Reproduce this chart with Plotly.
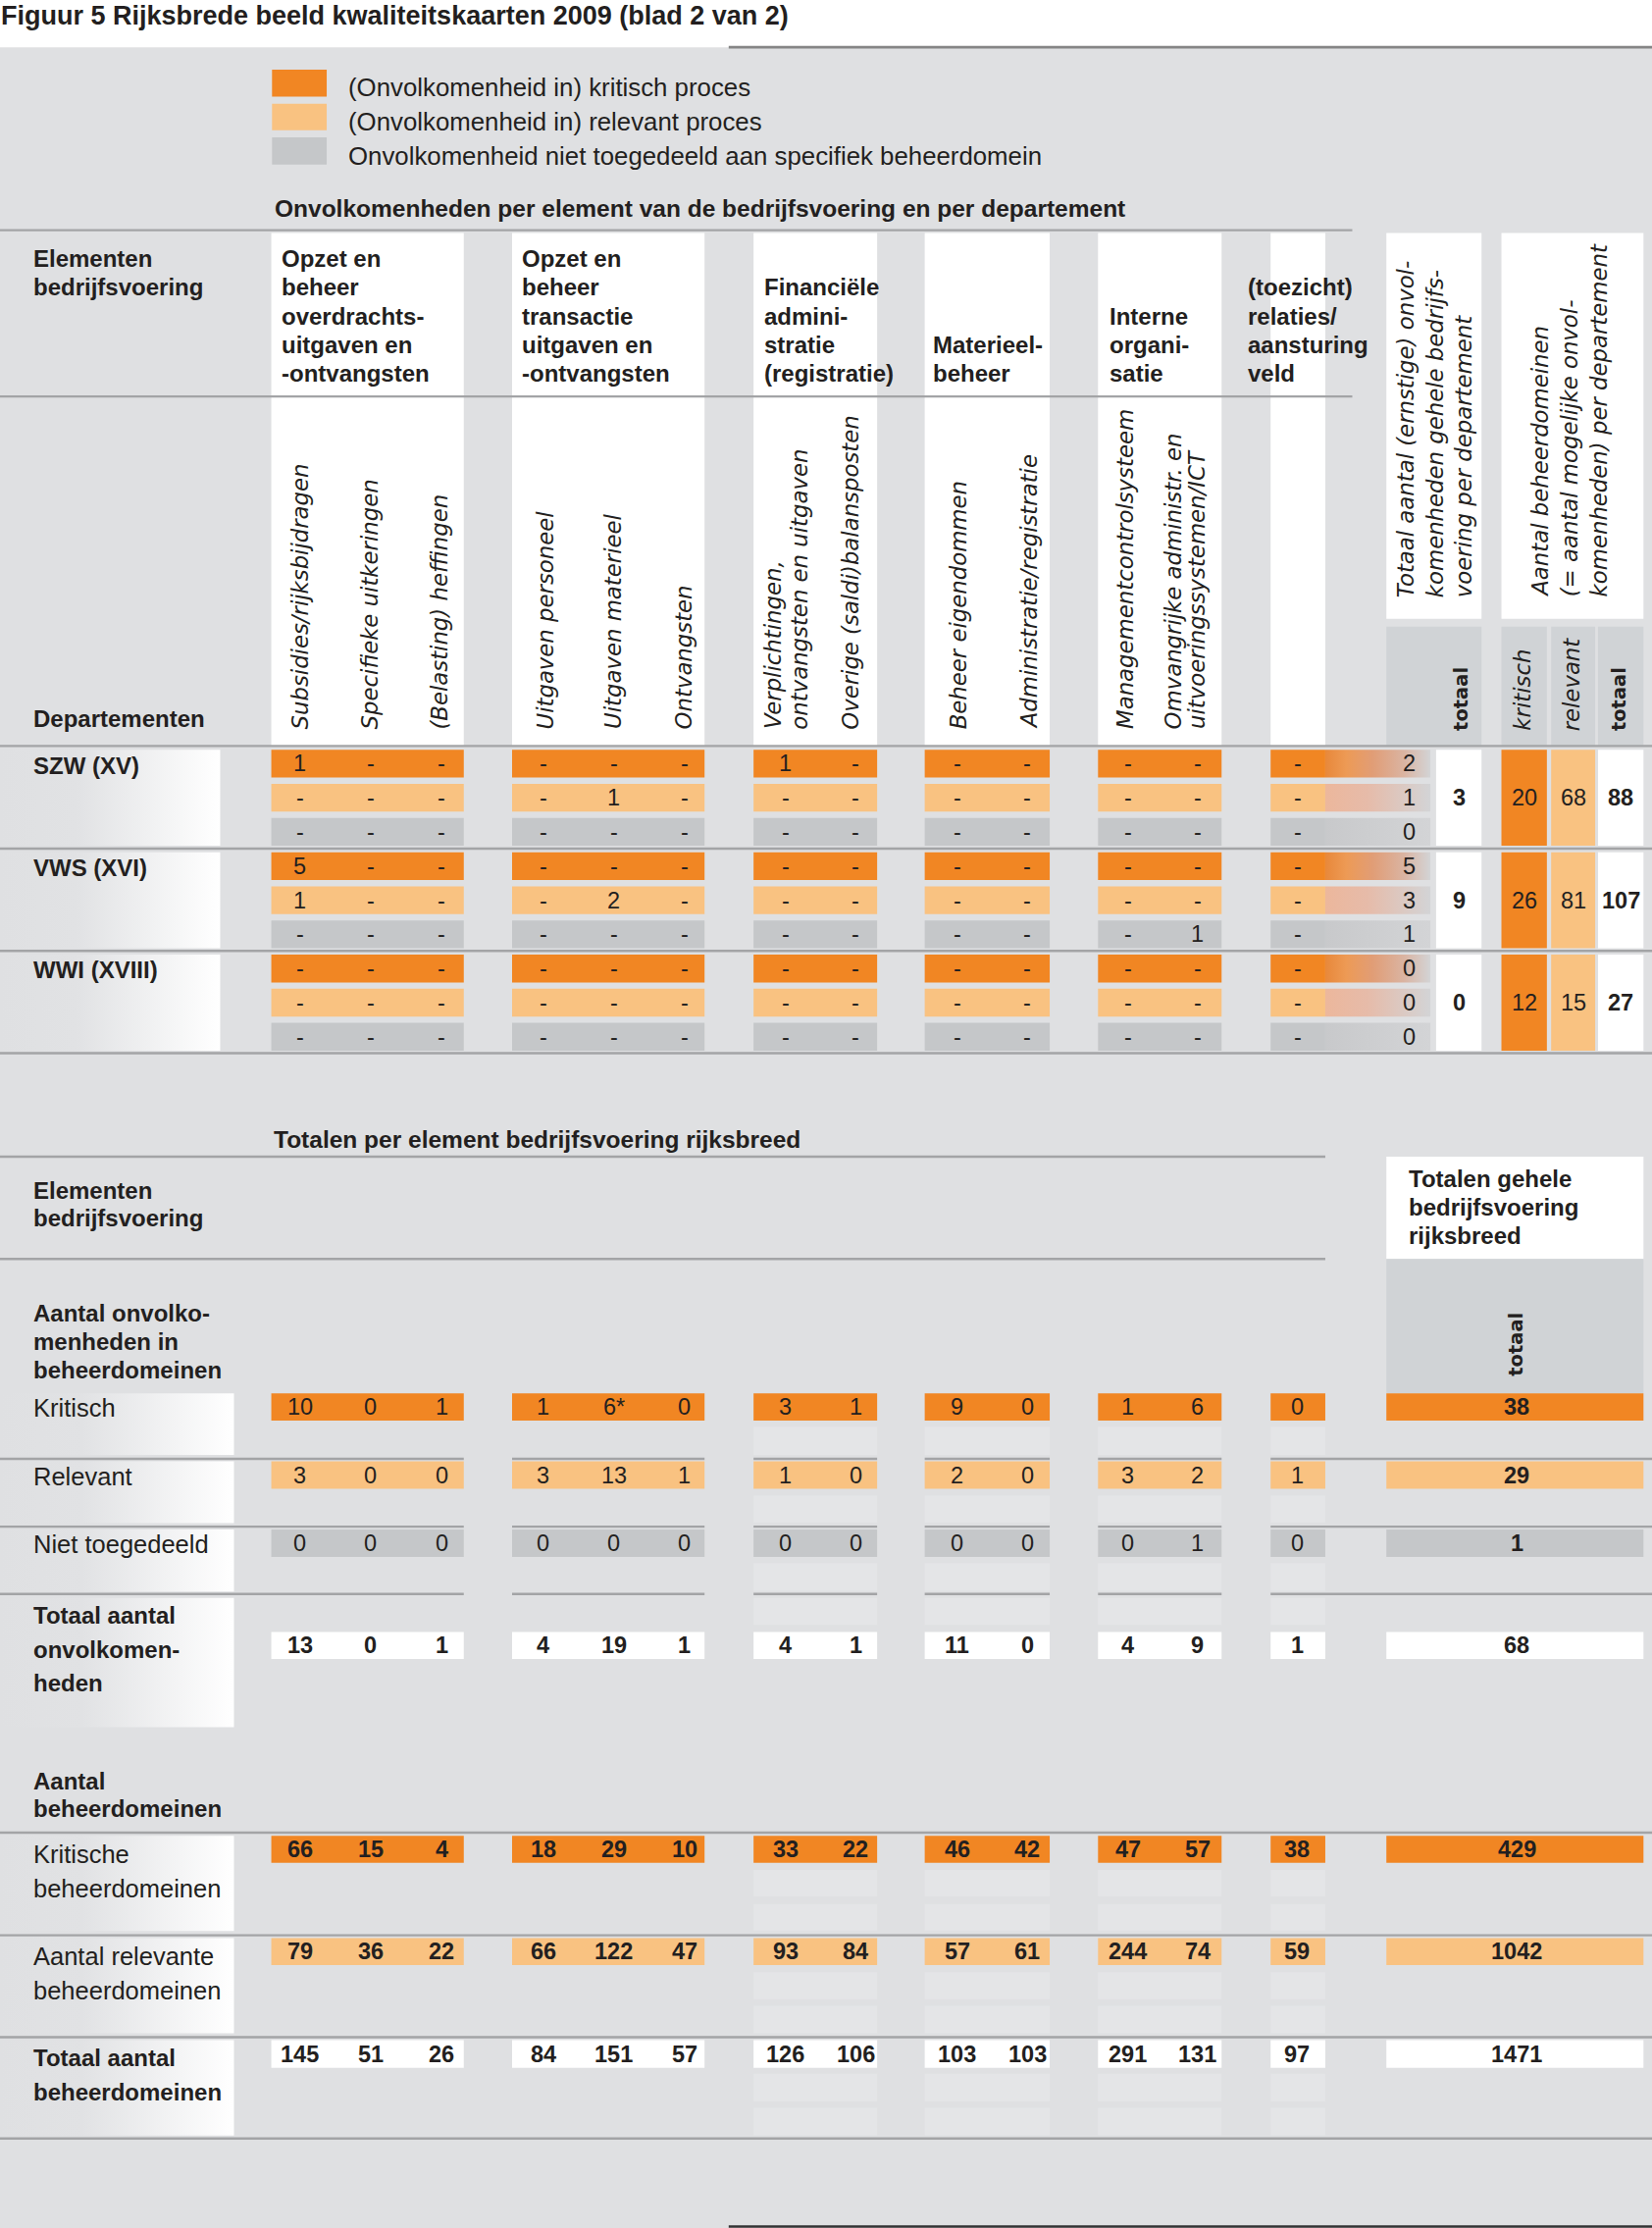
import plotly.graph_objects as go

# ---------------------------------------------------------------- data
TITLE = "Figuur 5 Rijksbrede beeld kwaliteitskaarten 2009 (blad 2 van 2)"
LEGEND_LABELS = ["(Onvolkomenheid in) kritisch proces",
                 "(Onvolkomenheid in) relevant proces",
                 "Onvolkomenheid niet toegedeeld aan specifiek beheerdomein"]
SECTION1 = "Onvolkomenheden per element van de bedrijfsvoering en per departement"
SECTION2 = "Totalen per element bedrijfsvoering rijksbreed"

GROUP_TITLES = [
    ["Opzet en", "beheer", "overdrachts-", "uitgaven en", "-ontvangsten"],
    ["Opzet en", "beheer", "transactie", "uitgaven en", "-ontvangsten"],
    ["Financiële", "admini-", "stratie", "(registratie)"],
    ["Materieel-", "beheer"],
    ["Interne", "organi-", "satie"],
    ["(toezicht)", "relaties/", "aansturing", "veld"],
]
SUB_LABELS = [
    ["Subsidies/rijksbijdragen"], ["Specifieke uitkeringen"], ["(Belasting) heffingen"],
    ["Uitgaven personeel"], ["Uitgaven materieel"], ["Ontvangsten"],
    ["Verplichtingen,", "ontvangsten en uitgaven"], ["Overige (saldi)balansposten"],
    ["Beheer eigendommen"], ["Administratie/registratie"],
    ["Managementcontrolsysteem"], ["Omvangrijke administr. en", "uitvoeringssystemen/ICT"],
    [],
]
DEPARTMENTS = ["SZW (XV)", "VWS (XVI)", "WWI (XVIII)"]
N = None
SZW_ROWS = [[1, N, N, N, N, N, 1, N, N, N, N, N, N],
            [N, N, N, N, 1, N, N, N, N, N, N, N, N],
            [N, N, N, N, N, N, N, N, N, N, N, N, N]]
VWS_ROWS = [[5, N, N, N, N, N, N, N, N, N, N, N, N],
            [1, N, N, N, 2, N, N, N, N, N, N, N, N],
            [N, N, N, N, N, N, N, N, N, N, N, 1, N]]
WWI_ROWS = [[N, N, N, N, N, N, N, N, N, N, N, N, N],
            [N, N, N, N, N, N, N, N, N, N, N, N, N],
            [N, N, N, N, N, N, N, N, N, N, N, N, N]]
DEPT_ROWS = [SZW_ROWS, VWS_ROWS, WWI_ROWS]
DEPT_ROW_TOTALS = [[2, 1, 0], [5, 3, 1], [0, 0, 0]]
DEPT_TOTAAL = [3, 9, 0]
DOMAINS_KRITISCH = [20, 26, 12]
DOMAINS_RELEVANT = [68, 81, 15]
DOMAINS_TOTAAL = [88, 107, 27]

TOT_KRITISCH = [10, 0, 1, 1, "6*", 0, 3, 1, 9, 0, 1, 6, 0]
TOT_RELEVANT = [3, 0, 0, 3, 13, 1, 1, 0, 2, 0, 3, 2, 1]
TOT_NIET = [0, 0, 0, 0, 0, 0, 0, 0, 0, 0, 0, 1, 0]
TOT_ONVOLK = [13, 0, 1, 4, 19, 1, 4, 1, 11, 0, 4, 9, 1]
SUM_ONVOLK = [38, 29, 1, 68]
DOM_KRITISCH = [66, 15, 4, 18, 29, 10, 33, 22, 46, 42, 47, 57, 38]
DOM_RELEVANT = [79, 36, 22, 66, 122, 47, 93, 84, 57, 61, 244, 74, 59]
DOM_TOTAAL = [145, 51, 26, 84, 151, 57, 126, 106, 103, 103, 291, 131, 97]
SUM_DOM = [429, 1042, 1471]

# ---------------------------------------------------------------- layout / style
W, H = 1684, 2271
UX, UY = 1163, 1568          # axis units
SANS = "Liberation Sans, Arial, sans-serif"
WIDE = "DejaVu Sans, sans-serif"
BG = "#dfe0e2"
ORANGE = "#f18623"
LIGHT = "#f9c281"
GRAYBOX = "#c5c7c9"
HDRGRAY = "#d0d3d6"
FAINT = "#e4e5e7"
LINE = "#a3a4a6"
TXT = "#231f20"
ROWCOL = [ORANGE, LIGHT, GRAYBOX]

COL_X = [211, 261, 311, 382.5, 432, 482, 553, 602.4, 674, 723.4, 794, 843, 914]
SUB_LABEL_X = [[211], [260], [309.5], [383.7], [432], [481], [544.6, 563],
               [599], [675], [725], [792.5], [826, 842.6], []]
GROUP_SPANS = [(191, 326.5), (360.5, 496), (530.5, 617.5), (651, 739), (773, 860), (894.5, 933)]
GROUP_TITLE_X = [197.5, 366.8, 537, 656.4, 780.4, 877.7]
HDR_LINE_Y = [182, 202, 222.5, 242.7, 263]
NUM = 23.5
ROT = 22.8

fig = go.Figure()
shapes, anns = [], []


def rect(x0, x1, y0, y1, fill, layer="below"):
    shapes.append(dict(type="rect", xref="x", yref="y", x0=x0, x1=x1, y0=y0, y1=y1,
                       fillcolor=fill, line=dict(width=0), layer=layer))


def hline(x0, x1, y, color=LINE, w=2.4):
    shapes.append(dict(type="line", xref="x", yref="y", x0=x0, x1=x1, y0=y, y1=y,
                       line=dict(color=color, width=w), layer="above"))


def grad(x0, x1, y0, y1, cs):
    fig.add_trace(go.Scatter(x=[x0, x1, x1, x0, x0], y=[y0, y0, y1, y1, y0], mode="lines",
                             line=dict(width=0), fill="toself",
                             fillgradient=dict(type="horizontal", colorscale=cs),
                             hoverinfo="skip", showlegend=False))


def txt(x, y, s, size, bold=False, italic=False, xa="left", ya="middle", angle=0,
        family=SANS, color=TXT):
    s = str(s)
    if bold:
        s = "<b>" + s + "</b>"
    if italic:
        s = "<i>" + s + "</i>"
    anns.append(dict(x=x, y=y, xref="x", yref="y", text=s, showarrow=False,
                     xanchor=xa, yanchor=ya, textangle=angle, borderpad=0,
                     font=dict(family=family, size=size, color=color)))


def fmt(v):
    return "-" if v is None else str(v)


LABEL_GRAD = [[0, BG], [0.35, "#e1e2e4"], [1, "#ffffff"]]

# background
rect(0, UX, 33.4, UY, BG)
hline(513, UX, 33.2, color="#858585", w=2.6)

# title & legend
txt(0, 0.3, TITLE, 27, bold=True, ya="top")
leg_y = [(49, 68), (73, 91.6), (96.7, 115.8)]
for (y0, y1), c, lab, ty in zip(leg_y, ROWCOL, LEGEND_LABELS, [61.5, 85.5, 109.5]):
    rect(191.5, 230, y0, y1, c)
    txt(244.8, ty, lab, 25.8)
txt(192.5, 147, SECTION1, 24.5, bold=True)

# ---------------------------------------------------------------- upper header
for (gx0, gx1) in GROUP_SPANS:
    rect(gx0, gx1, 164, 525, "#ffffff")
rect(976, 1043, 164, 435.5, "#ffffff")
rect(976, 1043, 441, 525, HDRGRAY)
rect(1057, 1157, 164, 435.5, "#ffffff")
for (bx0, bx1) in [(1057, 1089), (1092, 1123), (1125, 1157)]:
    rect(bx0, bx1, 441, 525, HDRGRAY)
hline(0, 952, 162)
hline(0, 952, 279)

txt(23, HDR_LINE_Y[0], "Elementen", 24, bold=True)
txt(23, HDR_LINE_Y[1], "bedrijfsvoering", 24, bold=True)
txt(23, 505.6, "Departementen", 24, bold=True)

for gi, lines in enumerate(GROUP_TITLES):
    ys = HDR_LINE_Y[len(HDR_LINE_Y) - len(lines):]
    for line, y in zip(lines, ys):
        txt(GROUP_TITLE_X[gi], y, line, 24, bold=True)

for ci, lines in enumerate(SUB_LABELS):
    for line, x in zip(lines, SUB_LABEL_X[ci]):
        txt(x, 514, line, ROT, italic=True, xa="center", ya="bottom", angle=-90, family=WIDE)

for line, x in zip(["Totaal aantal (ernstige) onvol-", "komenheden gehele bedrijfs-",
                    "voering per departement"], [989.6, 1010, 1030]):
    txt(x, 421, line, ROT, italic=True, xa="center", ya="bottom", angle=-90, family=WIDE)
for line, x in zip(["Aantal beheerdomeinen", "(= aantal mogelijke onvol-",
                    "komenheden) per departement"], [1084.6, 1105, 1125.5]):
    txt(x, 421, line, ROT, italic=True, xa="center", ya="bottom", angle=-90, family=WIDE)
txt(1028.7, 515, "totaal", 19.5, bold=True, xa="center", ya="bottom", angle=-90, family=WIDE)
txt(1072, 515, "kritisch", ROT, italic=True, xa="center", ya="bottom", angle=-90, family=WIDE)
txt(1106, 515, "relevant", ROT, italic=True, xa="center", ya="bottom", angle=-90, family=WIDE)
txt(1140, 515, "totaal", 19.5, bold=True, xa="center", ya="bottom", angle=-90, family=WIDE)

# ---------------------------------------------------------------- upper data
BLOCK_LINES = [525, 597.2, 669.2, 741.2]
RH = 19.6
FADE = [
    [[0, "#e8883a"], [0.2, "#ed9a55"], [0.45, "#e19d76"], [0.75, "#dab4a2"], [1, "#d3d4d6"]],
    [[0, "#ecb79c"], [0.4, "#e6bba9"], [1, "#d3d4d6"]],
    [[0, "#c8c9cb"], [1, "#d3d4d6"]],
]


def row_top(b, k):
    return BLOCK_LINES[b] + 2.6 + 24.0 * k


for b, dept in enumerate(DEPARTMENTS):
    top = row_top(b, 0)
    bot = row_top(b, 2) + RH
    grad(0, 155, top, bot, LABEL_GRAD)
    txt(23, top + 11, dept, 24, bold=True)
    for k in range(3):
        y0 = row_top(b, k)
        yc = y0 + RH / 2
        for (gx0, gx1) in GROUP_SPANS:
            rect(gx0, gx1, y0, y0 + RH, ROWCOL[k])
        grad(933, 1007, y0, y0 + RH, FADE[k])
        for ci, v in enumerate(DEPT_ROWS[b][k]):
            txt(COL_X[ci], yc, fmt(v), NUM, xa="center")
        txt(992, yc, DEPT_ROW_TOTALS[b][k], NUM, xa="center")
    ymid = row_top(b, 1) + RH / 2
    rect(1011, 1043, top, bot, "#ffffff")
    rect(1057, 1089, top, bot, ORANGE)
    rect(1092, 1123, top, bot, LIGHT)
    rect(1125, 1157, top, bot, "#ffffff")
    txt(1027.3, ymid, DEPT_TOTAAL[b], NUM, bold=True, xa="center")
    txt(1073, ymid, DOMAINS_KRITISCH[b], NUM, xa="center")
    txt(1107.5, ymid, DOMAINS_RELEVANT[b], NUM, xa="center")
    txt(1141, ymid, DOMAINS_TOTAAL[b], NUM, bold=True, xa="center")

for y in BLOCK_LINES:
    hline(0, UX, y)

# ---------------------------------------------------------------- lower header
txt(192, 802, SECTION2, 24.5, bold=True)
hline(0, 933, 814)
hline(0, 933, 886)
txt(23, 837.8, "Elementen", 24, bold=True)
txt(23, 857.5, "bedrijfsvoering", 24, bold=True)
rect(976, 1157, 814, 886, "#ffffff")
for line, y in zip(["Totalen gehele", "bedrijfsvoering", "rijksbreed"], [829.5, 849.5, 869.5]):
    txt(990.7, y, line, 24, bold=True)
rect(976, 1157, 886, 980.6, HDRGRAY)
txt(1067.6, 969, "totaal", 19.5, bold=True, xa="center", ya="bottom", angle=-90, family=WIDE)
for line, y in zip(["Aantal onvolko-", "menheden in", "beheerdomeinen"], [924, 944, 964]):
    txt(23, y, line, 24, bold=True)

SEGMENTS = [(0, 326.5), (360.5, 496), (530.5, 617.5), (651, 739), (773, 860), (894.5, UX)]

LOWER_ROWS = [
    dict(vals=TOT_KRITISCH, total=SUM_ONVOLK[0], box=(980.6, 999.8), color=ORANGE,
         label=(980.6, 1024), faint=[(1004, 1024)], labels=[(991, "Kritisch")],
         lab_bold=False, val_bold=False, line=1026.7, seg=True),
    dict(vals=TOT_RELEVANT, total=SUM_ONVOLK[1], box=(1028.5, 1047.7), color=LIGHT,
         label=(1028.5, 1072), faint=[(1052.5, 1071.6)], labels=[(1039, "Relevant")],
         lab_bold=False, val_bold=False, line=1074.4, seg=True),
    dict(vals=TOT_NIET, total=SUM_ONVOLK[2], box=(1076.4, 1095.8), color=GRAYBOX,
         label=(1076.4, 1120), faint=[(1100, 1119.5)], labels=[(1087, "Niet toegedeeld")],
         lab_bold=False, val_bold=False, line=1121.8, seg=True),
    dict(vals=TOT_ONVOLK, total=SUM_ONVOLK[3], box=(1148.6, 1167.6), color="#ffffff",
         label=(1124.5, 1215.5), faint=[(1124.5, 1143.6)],
         labels=[(1136.5, "Totaal aantal"), (1160.7, "onvolkomen-"), (1184.4, "heden")],
         lab_bold=True, val_bold=True, line=None, seg=True),
    dict(vals=DOM_KRITISCH, total=SUM_DOM[0], box=(1292, 1311), color=ORANGE,
         label=(1292, 1359), faint=[(1316, 1334.7), (1340, 1358.6)],
         labels=[(1304.8, "Kritische"), (1329.4, "beheerdomeinen")],
         lab_bold=False, val_bold=True, line=1362, seg=False),
    dict(vals=DOM_RELEVANT, total=SUM_DOM[1], box=(1364, 1383), color=LIGHT,
         label=(1364, 1431), faint=[(1388, 1407), (1411.6, 1431)],
         labels=[(1376.6, "Aantal relevante"), (1400.8, "beheerdomeinen")],
         lab_bold=False, val_bold=True, line=1433.7, seg=False),
    dict(vals=DOM_TOTAAL, total=SUM_DOM[2], box=(1435.8, 1455.3), color="#ffffff",
         label=(1435.8, 1503), faint=[(1459.4, 1479), (1483.4, 1502.8)],
         labels=[(1448, "Totaal aantal"), (1472.6, "beheerdomeinen")],
         lab_bold=True, val_bold=True, line=1505, seg=False),
]

txt(23, 1253.5, "Aantal", 24, bold=True)
txt(23, 1273, "beheerdomeinen", 24, bold=True)
hline(0, UX, 1289.8)

for r in LOWER_ROWS:
    grad(0, 164.7, r["label"][0], r["label"][1], LABEL_GRAD)
    for (y, lab) in r["labels"]:
        txt(23, y, lab, 24 if r["lab_bold"] else 25.5, bold=r["lab_bold"])
    y0, y1 = r["box"]
    yc = (y0 + y1) / 2
    for gi, (gx0, gx1) in enumerate(GROUP_SPANS):
        rect(gx0, gx1, y0, y1, r["color"])
        if gi >= 2:
            for (f0, f1) in r["faint"]:
                rect(gx0, gx1, f0, f1, FAINT)
    for ci, v in enumerate(r["vals"]):
        txt(COL_X[ci] if ci < 12 else 913, yc, v, NUM, bold=r["val_bold"], xa="center")
    rect(976, 1157, y0, y1, r["color"])
    txt(1068, yc, r["total"], NUM, bold=True, xa="center")
    if r["line"] is not None:
        if r["seg"]:
            for (sx0, sx1) in SEGMENTS:
                hline(sx0, sx1, r["line"])
        else:
            hline(0, UX, r["line"])

hline(513, UX, 1567, color="#333333", w=2.6)

fig.update_layout(
    width=W, height=H, autosize=False,
    margin=dict(l=0, r=0, t=0, b=0, pad=0),
    paper_bgcolor="#ffffff", plot_bgcolor="#ffffff",
    xaxis=dict(range=[0, UX], visible=False, fixedrange=True),
    yaxis=dict(range=[UY, 0], visible=False, fixedrange=True),
    showlegend=False, shapes=shapes, annotations=anns, dragmode=False,
)
fig.write_html("out.html", config={"displayModeBar": False, "staticPlot": True},
               post_script="document.body.style.margin='0';")
